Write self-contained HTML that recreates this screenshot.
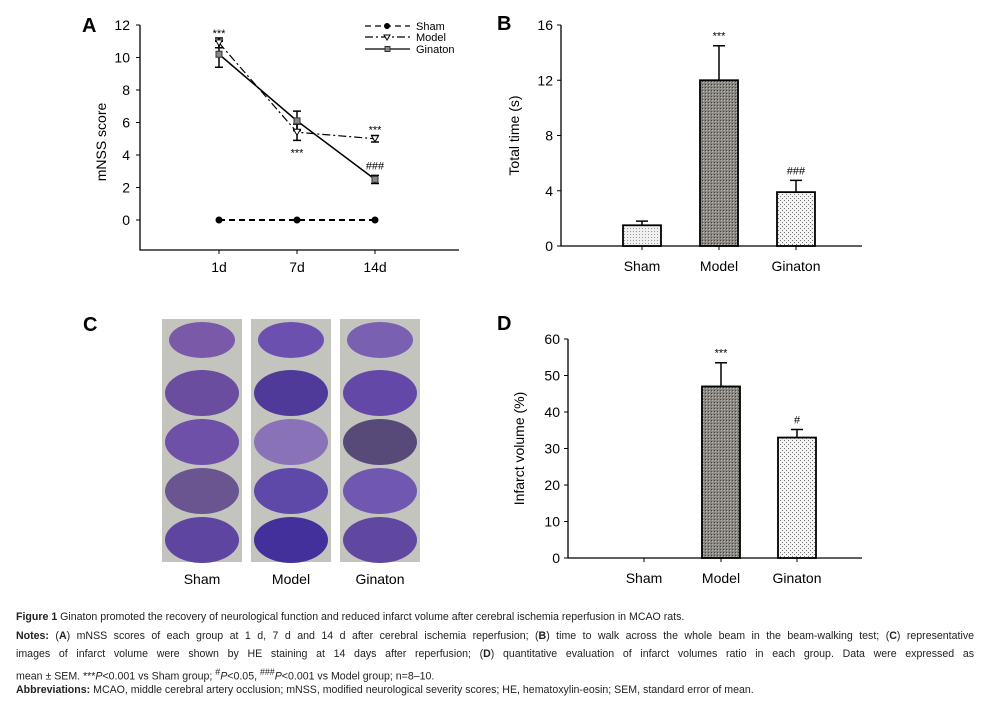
<!DOCTYPE html>
<html><head><meta charset="utf-8"><style>
body{margin:0;background:#fff;width:990px;height:707px;overflow:hidden;font-family:"Liberation Sans",sans-serif}
svg{position:absolute;left:0;top:0}
.cap{position:absolute;left:16px;width:958px;font-family:"Liberation Sans Narrow","Liberation Sans",sans-serif;font-size:10.6px;color:#222;line-height:17.5px;white-space:nowrap}
.cap div{position:absolute;left:0}
.j{width:958px;text-align:justify;text-align-last:justify}
</style></head><body>
<svg id="fig" width="990" height="707">
<defs>
<pattern id="pSham" width="3" height="3" patternUnits="userSpaceOnUse"><rect width="3" height="3" fill="#f0f0f0"/><rect width="1" height="1" fill="#999"/></pattern>
<pattern id="pModel" width="3" height="3" patternUnits="userSpaceOnUse"><rect width="3" height="3" fill="#8a8680"/><rect width="1" height="1" fill="#444"/><rect x="1" y="1" width="1" height="1" fill="#bbb"/></pattern>
<pattern id="pGin" width="4" height="4" patternUnits="userSpaceOnUse"><rect width="4" height="4" fill="#f3f3f3"/><rect width="1" height="1" fill="#777"/><rect x="2" y="2" width="1" height="1" fill="#777"/></pattern>
</defs>
<g id="pa"></g>
<g id="pb"></g>
<g id="pc"></g>
<g id="pd"></g>
</svg>
<div class="cap">
<div style="top:609px"><b>Figure 1</b> Ginaton promoted the recovery of neurological function and reduced infarct volume after cerebral ischemia reperfusion in MCAO rats.</div>
<div class="j" style="top:628px"><b>Notes:</b> (<b>A</b>) mNSS scores of each group at 1 d, 7 d and 14 d after cerebral ischemia reperfusion; (<b>B</b>) time to walk across the whole beam in the beam-walking test; (<b>C</b>) representative</div>
<div class="j" style="top:646px">images of infarct volume were shown by HE staining at 14 days after reperfusion; (<b>D</b>) quantitative evaluation of infarct volumes ratio in each group. Data were expressed as</div>
<div style="top:664px">mean ± SEM. ***<i>P</i>&lt;0.001 vs Sham group; <sup>#</sup><i>P</i>&lt;0.05, <sup>###</sup><i>P</i>&lt;0.001 vs Model group; n=8–10.</div>
<div style="top:682px"><b>Abbreviations:</b> MCAO, middle cerebral artery occlusion; mNSS, modified neurological severity scores; HE, hematoxylin-eosin; SEM, standard error of mean.</div>
</div>
<script>
// Panel A data
const daysA=["1d","7d","14d"];
const shamA=[0,0,0];
const modelA=[10.9,5.4,5.0];
const modelErrA=[0.3,0.5,0.2];
const ginA=[10.2,6.1,2.5];
const ginErrA=[0.8,0.6,0.25];
const ticksA=[0,2,4,6,8,10,12];
// Panel B data
const groups=["Sham","Model","Ginaton"];
const timeB=[1.5,12.0,3.9];
const timeErrB=[0.3,2.5,0.85];
const ticksB=[0,4,8,12,16];
const sigB=["","***","###"];
// Panel D data
const infD=[0,47,33];
const infErrD=[0,6.5,2.2];
const ticksD=[0,10,20,30,40,50,60];
const sigD=["","***","#"];

const NS="http://www.w3.org/2000/svg";
function el(p,t,a,txt){const e=document.createElementNS(NS,t);for(const k in a)e.setAttribute(k,a[k]);if(txt!==undefined)e.textContent=txt;p.appendChild(e);return e;}

// ---------- Panel A
(function(){
const g=document.getElementById('pa');
const y=v=>220-v*16.25, X=[219,297,375];
let t=el(g,'text',{x:82,y:32,'font-size':20,'font-weight':'bold'},'A');

let ax=el(g,'path',{d:'M140,25 V250 H459',stroke:'#000','stroke-width':1.3,fill:'none'});

ticksA.forEach(v=>{el(g,'line',{x1:136,x2:140,y1:y(v),y2:y(v),stroke:'#000'});
 let l=el(g,'text',{x:130,y:y(v)+5,'font-size':14,'text-anchor':'end'},v);
 });
daysA.forEach((d,i)=>{el(g,'line',{x1:X[i],x2:X[i],y1:250,y2:254,stroke:'#000'});
 let l=el(g,'text',{x:X[i],y:272,'font-size':14,'text-anchor':'middle'},d);
 });
let yt=el(g,'text',{transform:'translate(106,142) rotate(-90)','font-size':14,'text-anchor':'middle'},'mNSS score');

function line(vals,dash,w,name){let p=el(g,'polyline',{points:vals.map((v,i)=>X[i]+','+y(v)).join(' '),fill:'none',stroke:'#000','stroke-width':w,'stroke-dasharray':dash});
 }
function err(vals,e){vals.forEach((v,i)=>{const a=y(v+e[i]),b=y(v-e[i]);
 el(g,'path',{d:`M${X[i]},${a}V${b}M${X[i]-4},${a}h8M${X[i]-4},${b}h8`,stroke:'#000','stroke-width':1.5,fill:'none'});});}
line(shamA,'6,4',2,'sham-line');line(modelA,'8,3,2,3',1.2,'model-line');line(ginA,'',1.5,'ginaton-line');
err(modelA,modelErrA);err(ginA,ginErrA);
shamA.forEach((v,i)=>{let c=el(g,'circle',{cx:X[i],cy:y(v),r:3.5,fill:'#000'});});
modelA.forEach((v,i)=>{let c=el(g,'path',{d:`M${X[i]-3.5},${y(v)-3}h7l-3.5,6z`,fill:'#fff',stroke:'#000'});});
ginA.forEach((v,i)=>{let c=el(g,'rect',{x:X[i]-3,y:y(v)-3,width:6,height:6,fill:'#888',stroke:'#333'});});
[[219,y(modelA[0]+modelErrA[0])-5,'***'],[297,y(modelA[1])+20,'***'],[375,y(modelA[2]+modelErrA[2])-6,'***'],[375,y(ginA[2]+ginErrA[2])-10,'###']].forEach(s=>{
 let l=el(g,'text',{x:s[0],y:s[1]+4,'font-size':11,'text-anchor':'middle'},s[2]);});
// legend
const L=[['Sham','6,4',26],['Model','8,3,2,3',37],['Ginaton','',49]];
L.forEach((o,i)=>{el(g,'line',{x1:365,x2:410,y1:o[2],y2:o[2],stroke:'#000','stroke-width':1.3,'stroke-dasharray':o[1]});
 if(i==0)el(g,'circle',{cx:387,cy:o[2],r:3,fill:'#000'});
 if(i==1)el(g,'path',{d:`M384,${o[2]-2}h6l-3,5z`,fill:'#fff',stroke:'#000'});
 if(i==2)el(g,'rect',{x:385,y:o[2]-2.5,width:5,height:5,fill:'#888',stroke:'#333'});
 let l=el(g,'text',{x:416,y:o[2]+4,'font-size':11},o[0]);});
})();

// ---------- bar chart helper
function bars(id,lab,ox,y0,ytop,maxv,ticks,vals,errs,sig,title,titleX,xs){
const g=document.getElementById(id);
const y=v=>y0-v*(y0-ytop)/maxv;
let t=el(g,'text',{x:lab[0],y:lab[1],'font-size':20,'font-weight':'bold'},lab[2]);

let ax=el(g,'path',{d:`M${ox},${ytop} V${y0} H862`,stroke:'#000','stroke-width':1.3,fill:'none'});

ticks.forEach(v=>{el(g,'line',{x1:ox-4,x2:ox,y1:y(v),y2:y(v),stroke:'#000'});
 let l=el(g,'text',{x:ox-8,y:y(v)+5,'font-size':14,'text-anchor':'end'},v);});
let yt=el(g,'text',{transform:`translate(${titleX},${(y0+ytop)/2}) rotate(-90)`,'font-size':14,'text-anchor':'middle'},title);

const fills=['url(#pSham)','url(#pModel)','url(#pGin)'];
groups.forEach((gname,i)=>{const cx=xs[i];
 el(g,'line',{x1:cx,x2:cx,y1:y0,y2:y0+4,stroke:'#000'});
 let l=el(g,'text',{x:cx,y:y0+25,'font-size':14,'text-anchor':'middle'},gname);
 if(vals[i]>0){
  const top=y(vals[i]+errs[i]);
  el(g,'path',{d:`M${cx},${y(vals[i])}V${top}M${cx-6},${top}h12`,stroke:'#000','stroke-width':1.5});
  let b=el(g,'rect',{x:cx-19,y:y(vals[i]),width:38,height:y0-y(vals[i]),fill:fills[i],stroke:'#000','stroke-width':1.8});
  
  if(sig[i]){let s=el(g,'text',{x:cx,y:top-6,'font-size':11,'text-anchor':'middle'},sig[i]);}
 }});
}
bars('pb',[497,30,'B'],561,246,25,16,ticksB,timeB,timeErrB,sigB,'Total time (s)',519,[642,719,796]);
bars('pd',[497,330,'D'],568,558,339,60,ticksD,infD,infErrD,sigD,'Infarct volume (%)',524,[644,721,797]);

// ---------- Panel C
(function(){
const g=document.getElementById('pc');
let t=el(g,'text',{x:83,y:331,'font-size':20,'font-weight':'bold'},'C');
const cols=[[162,'Sham'],[251,'Model'],[340,'Ginaton']];
const shades=[['#7a5aa8','#6a4d9e','#6f50a8','#6a5590','#5e45a0'],['#6c50b0','#4f3a9a','#8a72b8','#5e48a8','#44309a'],['#7a60b0','#6448a8','#574a78','#7058b0','#6048a0']];
cols.forEach((c,ci)=>{
 let r=el(g,'rect',{x:c[0],y:319,width:80,height:243,fill:'#c4c4be'});
 for(let k=0;k<5;k++){const cy=319+21+k*49;const rx=k==0?33:37,ry=k==0?18:23;
  let e=el(g,'ellipse',{cx:c[0]+40,cy:cy+(k==0?0:4),rx:rx,ry:ry,fill:shades[ci][k]});}
 let l=el(g,'text',{x:c[0]+40,y:584,'font-size':14,'text-anchor':'middle'},c[1]);
});
})();
</script>
</body></html>
